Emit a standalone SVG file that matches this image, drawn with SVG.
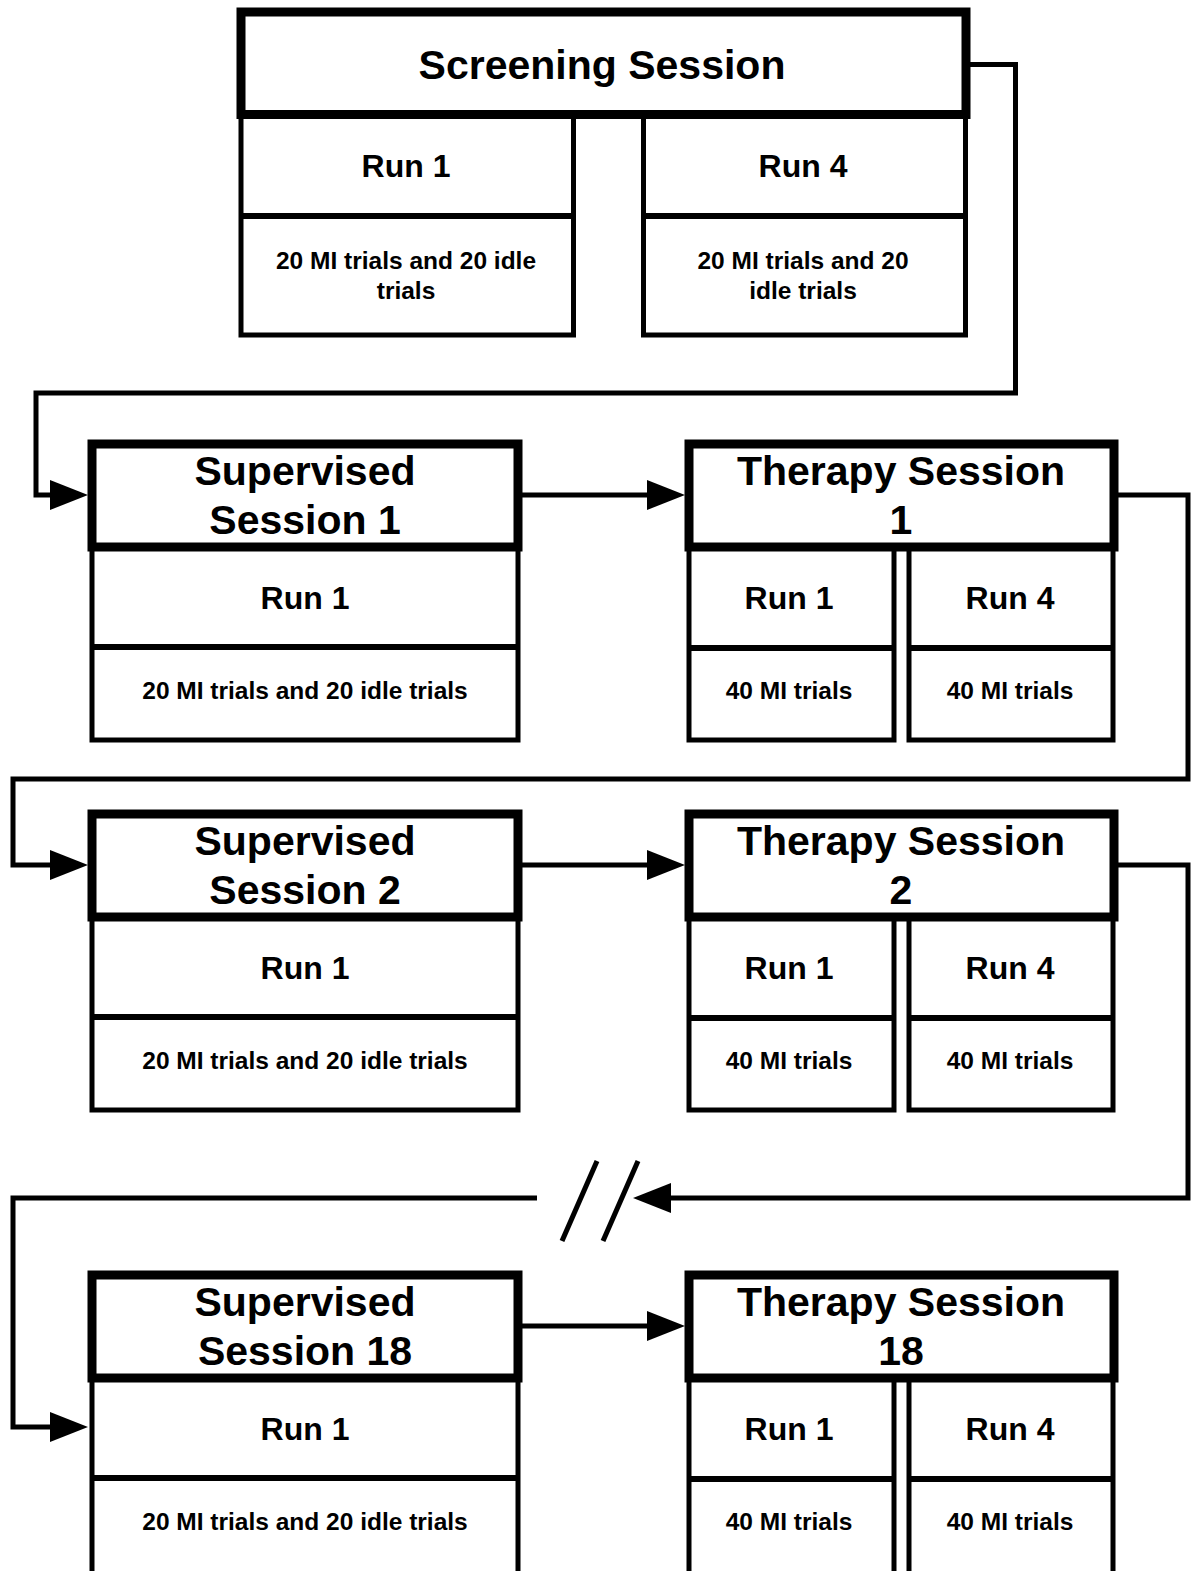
<svg xmlns="http://www.w3.org/2000/svg" width="1193" height="1571" viewBox="0 0 1193 1571">
<style>
  .hdr { fill: #fff; stroke: #000; stroke-width: 9; }
  .body { fill: #fff; stroke: #000; stroke-width: 5; }
  .div { stroke: #000; stroke-width: 6; }
  .conn { fill: none; stroke: #000; stroke-width: 5; }
  text { font-family: "Liberation Sans", Arial, sans-serif; font-weight: bold; fill: #000; text-anchor: middle; }
  .t1 { font-size: 41px; }
  .t2 { font-size: 32px; }
  .t3 { font-size: 24.5px; }
</style>
<defs>
  <marker id="ah" markerUnits="userSpaceOnUse" markerWidth="38" markerHeight="30" refX="18" refY="15" orient="auto">
    <path d="M0,0 L38,15 L0,30 z" fill="#000"/>
  </marker>
</defs>
<rect width="1193" height="1571" fill="#fff"/>

<g id="connectors">
  <path class="conn" d="M966,64.5 H1015.5 V393 H36 V495 H68" marker-end="url(#ah)"/>
  <path class="conn" d="M518,495 H665" marker-end="url(#ah)"/>
  <path class="conn" d="M1114,495 H1188 V779 H13 V865 H68" marker-end="url(#ah)"/>
  <path class="conn" d="M518,865 H665" marker-end="url(#ah)"/>
  <path class="conn" d="M1114,865 H1188 V1198 H653" marker-end="url(#ah)"/>
  <path class="conn" d="M537,1198 H13 V1427 H68" marker-end="url(#ah)"/>
  <line class="conn" x1="562" y1="1241" x2="597" y2="1161"/>
  <line class="conn" x1="603" y1="1241" x2="638" y2="1161"/>
  <path class="conn" d="M518,1326 H665" marker-end="url(#ah)"/>
</g>

<g id="screening">
  <rect class="body" x="241" y="114" width="332.5" height="221"/>
  <line class="div" x1="241" y1="216" x2="573.5" y2="216"/>
  <rect class="body" x="643.5" y="114" width="322" height="221"/>
  <line class="div" x1="643.5" y1="216" x2="965.5" y2="216"/>
  <rect class="hdr" x="241" y="12" width="725" height="102.5" stroke-width="8"/>
  <text class="t1" x="602" y="79">Screening Session</text>
  <text class="t2" x="406" y="177">Run 1</text>
  <text class="t2" x="803" y="177">Run 4</text>
  <text class="t3" x="406" y="269">20 MI trials and 20 idle</text>
  <text class="t3" x="406" y="299">trials</text>
  <text class="t3" x="803" y="269">20 MI trials and 20</text>
  <text class="t3" x="803" y="299">idle trials</text>
</g>

<g id="supervised1">
  <rect class="body" x="92" y="547" width="426" height="193"/>
  <line class="div" x1="92" y1="647" x2="518" y2="647"/>
  <rect class="hdr" x="92" y="444" width="426" height="103"/>
  <text class="t1" x="305" y="485">Supervised</text>
  <text class="t1" x="305" y="534">Session 1</text>
  <text class="t2" x="305" y="609">Run 1</text>
  <text class="t3" x="305" y="699">20 MI trials and 20 idle trials</text>
</g>

<g id="therapy1">
  <rect class="body" x="689" y="547" width="205" height="193"/>
  <line class="div" x1="689" y1="648" x2="894" y2="648"/>
  <rect class="body" x="909" y="547" width="204" height="193"/>
  <line class="div" x1="909" y1="648" x2="1113" y2="648"/>
  <rect class="hdr" x="689" y="444" width="425" height="103"/>
  <text class="t1" x="901" y="485">Therapy Session</text>
  <text class="t1" x="901" y="534">1</text>
  <text class="t2" x="789" y="609">Run 1</text>
  <text class="t2" x="1010" y="609">Run 4</text>
  <text class="t3" x="789" y="699">40 MI trials</text>
  <text class="t3" x="1010" y="699">40 MI trials</text>
</g>

<g id="supervised2">
  <rect class="body" x="92" y="917" width="426" height="193"/>
  <line class="div" x1="92" y1="1017" x2="518" y2="1017"/>
  <rect class="hdr" x="92" y="814" width="426" height="103"/>
  <text class="t1" x="305" y="855">Supervised</text>
  <text class="t1" x="305" y="904">Session 2</text>
  <text class="t2" x="305" y="979">Run 1</text>
  <text class="t3" x="305" y="1069">20 MI trials and 20 idle trials</text>
</g>

<g id="therapy2">
  <rect class="body" x="689" y="917" width="205" height="193"/>
  <line class="div" x1="689" y1="1018" x2="894" y2="1018"/>
  <rect class="body" x="909" y="917" width="204" height="193"/>
  <line class="div" x1="909" y1="1018" x2="1113" y2="1018"/>
  <rect class="hdr" x="689" y="814" width="425" height="103"/>
  <text class="t1" x="901" y="855">Therapy Session</text>
  <text class="t1" x="901" y="904">2</text>
  <text class="t2" x="789" y="979">Run 1</text>
  <text class="t2" x="1010" y="979">Run 4</text>
  <text class="t3" x="789" y="1069">40 MI trials</text>
  <text class="t3" x="1010" y="1069">40 MI trials</text>
</g>

<g id="supervised18">
  <rect class="body" x="92" y="1378" width="426" height="210"/>
  <line class="div" x1="92" y1="1478" x2="518" y2="1478"/>
  <rect class="hdr" x="92" y="1275" width="426" height="103"/>
  <text class="t1" x="305" y="1316">Supervised</text>
  <text class="t1" x="305" y="1365">Session 18</text>
  <text class="t2" x="305" y="1440">Run 1</text>
  <text class="t3" x="305" y="1530">20 MI trials and 20 idle trials</text>
</g>

<g id="therapy18">
  <rect class="body" x="689" y="1378" width="205" height="210"/>
  <line class="div" x1="689" y1="1479" x2="894" y2="1479"/>
  <rect class="body" x="909" y="1378" width="204" height="210"/>
  <line class="div" x1="909" y1="1479" x2="1113" y2="1479"/>
  <rect class="hdr" x="689" y="1275" width="425" height="103"/>
  <text class="t1" x="901" y="1316">Therapy Session</text>
  <text class="t1" x="901" y="1365">18</text>
  <text class="t2" x="789" y="1440">Run 1</text>
  <text class="t2" x="1010" y="1440">Run 4</text>
  <text class="t3" x="789" y="1530">40 MI trials</text>
  <text class="t3" x="1010" y="1530">40 MI trials</text>
</g>
</svg>
